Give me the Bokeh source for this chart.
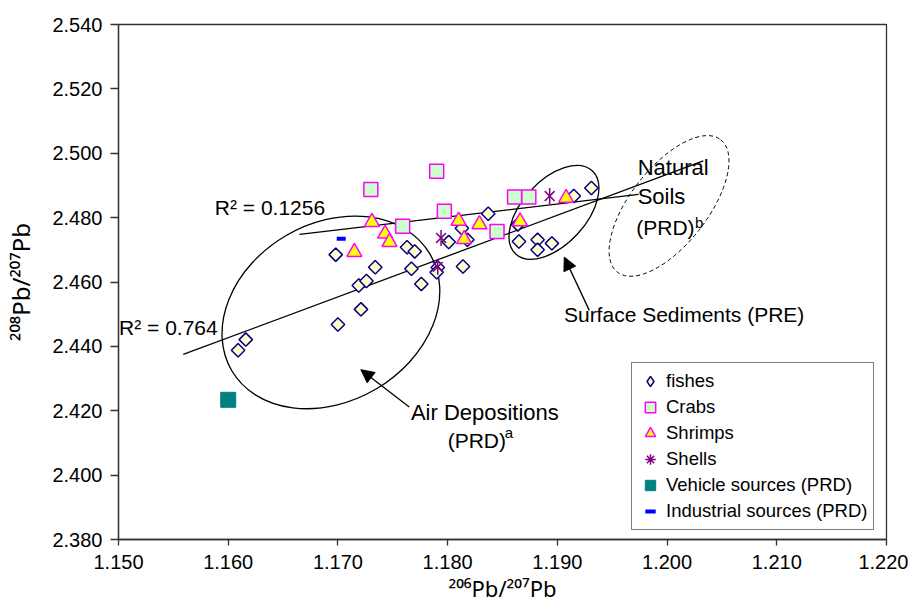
import numpy as np
from bokeh.plotting import figure
from bokeh.models import (Range1d, FixedTicker, NumeralTickFormatter, Label, Arrow,
                          NormalHead, Legend, LegendItem)
from bokeh.embed import file_html
from bokeh.resources import INLINE

# ---------------- data ----------------
fish_x = [1.1609, 1.1616, 1.1698, 1.1700, 1.1719, 1.1721, 1.1726, 1.1734, 1.1763,
          1.1770, 1.1767, 1.1776, 1.1791, 1.1790, 1.1801, 1.1813, 1.1818, 1.1814,
          1.1837, 1.1864, 1.1865, 1.1882, 1.1882, 1.1895, 1.1915, 1.1931]
fish_y = [2.4388, 2.4421, 2.4685, 2.4468, 2.4589, 2.4515, 2.4603, 2.4646, 2.4708,
          2.4695, 2.4641, 2.4594, 2.4645, 2.4630, 2.4724, 2.4767, 2.4731, 2.4648,
          2.4812, 2.4779, 2.4726, 2.4731, 2.4700, 2.4720, 2.4867, 2.4892]
crab_x = [1.1730, 1.1790, 1.1759, 1.1797, 1.1845, 1.1861, 1.1874]
crab_y = [2.4887, 2.4944, 2.4773, 2.4820, 2.4757, 2.4864, 2.4864]
shrimp_x = [1.1715, 1.1731, 1.1743, 1.1747, 1.1810, 1.1815, 1.1829, 1.1866, 1.1908]
shrimp_y = [2.4693, 2.4786, 2.4750, 2.4724, 2.4790, 2.4733, 2.4779, 2.4788, 2.4861]
shell_x = [1.1791, 1.1794, 1.1893]
shell_y = [2.4647, 2.4737, 2.4867]
vehicle_x = [1.1600]
vehicle_y = [2.4234]
industrial_x = [1.1703]
industrial_y = [2.4734]

# trend lines (end points)
fit764_x = [1.1559, 1.2033]
fit764_y = [2.4375, 2.4976]
fit1256_x = [1.1665, 1.1974]
fit1256_y = [2.4748, 2.4872]

x_ticks = [1.15, 1.16, 1.17, 1.18, 1.19, 1.20, 1.21, 1.22]
y_ticks = [2.38, 2.40, 2.42, 2.44, 2.46, 2.48, 2.50, 2.52, 2.54]

x_title = "²⁰⁶Pb/²⁰⁷Pb"
y_title = "²⁰⁸Pb/²⁰⁷Pb"

FONT = "Liberation Sans"
AX = "#333333"

p = figure(width=908, height=605, output_backend="svg", toolbar_location=None,
           x_range=Range1d(1.15, 1.22), y_range=Range1d(2.38, 2.54),
           min_border_left=118, min_border_right=22, min_border_top=24,
           min_border_bottom=66)
p.grid.visible = False
p.outline_line_color = AX
p.outline_line_width = 1.3
p.background_fill_color = "white"

p.xaxis.ticker = FixedTicker(ticks=x_ticks)
p.yaxis.ticker = FixedTicker(ticks=y_ticks)
p.xaxis.formatter = NumeralTickFormatter(format="0.000")
p.yaxis.formatter = NumeralTickFormatter(format="0.000")
for ax in (p.xaxis, p.yaxis):
    ax.axis_line_color = AX
    ax.axis_line_width = 1.3
    ax.major_tick_line_color = AX
    ax.major_tick_line_width = 1.3
    ax.major_tick_in = 0
    ax.minor_tick_line_color = None
    ax.major_label_text_font = FONT
    ax.major_label_text_font_size = "20px"
    ax.major_label_text_color = "black"
    ax.axis_label_text_font = "Noto Sans"
    ax.axis_label_text_font_style = "normal"
    ax.axis_label_text_color = "black"
p.xaxis.axis_label_text_font_size = "22px"
p.yaxis.axis_label_text_font_size = "24px"
p.yaxis.major_tick_out = 8
p.yaxis.major_label_standoff = 8
p.xaxis.major_tick_out = 6
p.xaxis.major_label_standoff = 9
p.xaxis.axis_label = x_title
p.yaxis.axis_label = y_title
p.xaxis.axis_label_standoff = 1
p.yaxis.axis_label_standoff = 12

# ellipses (outline only)
p.ellipse(x=[1.16936], y=[2.45056], width=230, height=178, angle=0.532,
          width_units="screen", height_units="screen",
          fill_color=None, line_color="black", line_width=1.3)
p.ellipse(x=[1.18969], y=[2.48162], width=113, height=64, angle=0.827,
          width_units="screen", height_units="screen",
          fill_color=None, line_color="black", line_width=1.3)
p.ellipse(x=[1.20018], y=[2.48363], width=168, height=77, angle=0.908,
          width_units="screen", height_units="screen",
          fill_color=None, line_color="black", line_width=1.0, line_dash="4 3")

# trend lines
p.line(fit764_x, fit764_y, line_color="black", line_width=1.3)
p.line(fit1256_x, fit1256_y, line_color="black", line_width=1.3)

# series
fish_style = dict(fill_color="#FFFFCC", line_color="#000080", line_width=1.5)
shell_style = dict(line_color="#800080", line_width=1.5)
r_fish = p.scatter(fish_x, fish_y, marker="square", angle=np.pi / 4, size=9.5, **fish_style)
r_crab = p.scatter(crab_x, crab_y, marker="square", size=14,
                   fill_color="#CCFFCC", line_color="#FF00FF", line_width=1.5)
r_shrimp = p.scatter(shrimp_x, shrimp_y, marker="triangle", size=15,
                     fill_color="#FFFF00", line_color="#FF00FF", line_width=1.5)
p.scatter(shell_x, shell_y, marker="x", size=14, **shell_style)
p.scatter(shell_x, shell_y, marker="dash", angle=np.pi / 2, size=16, **shell_style)
r_veh = p.scatter(vehicle_x, vehicle_y, marker="square", size=15,
                  fill_color="#008080", line_color="#008080")
r_ind = p.scatter(industrial_x, industrial_y, marker="dash", size=9,
                  line_color="#0000FF", line_width=4)

# legend-only swatches (no position in the plot, only drawn inside the legend)
key_fish = p.scatter([np.nan], [np.nan], marker="diamond", **fish_style)
key_shell = p.scatter([np.nan], [np.nan], marker="asterisk", **shell_style)

# arrows
p.add_layout(Arrow(end=NormalHead(size=13, fill_color="black", line_color="black"),
                   x_start=1.17650, y_start=2.42115, x_end=1.17209, y_end=2.43276,
                   line_color="black", line_width=1.3))
p.add_layout(Arrow(end=NormalHead(size=13, fill_color="black", line_color="black"),
                   x_start=1.19291, y_start=2.45118, x_end=1.19063, y_end=2.46773,
                   line_color="black", line_width=1.3))

# text annotations
def lab(x, y, text, size="21px"):
    p.add_layout(Label(x=x, y=y, text=text, text_font=FONT, text_font_size=size,
                       text_baseline="middle", text_align="left", text_color="black"))

lab(1.15878, 2.48317, "R² = 0.1256")
lab(1.15005, 2.44599, "R² = 0.764")
lab(1.19732, 2.49547, "Natural", "22px")
lab(1.19732, 2.48643, "Soils", "22px")
lab(1.19719, 2.47696, "(PRD)", "21px")
lab(1.20254, 2.47860, "b", "15px")
lab(1.19060, 2.44994, "Surface Sediments (PRE)", "21px")
lab(1.17665, 2.41950, "Air Depositions", "22px")
lab(1.18000, 2.41081, "(PRD)", "21px")
lab(1.18520, 2.41338, "a", "15px")

legend = Legend(items=[
    LegendItem(label="fishes", renderers=[key_fish]),
    LegendItem(label="Crabs", renderers=[r_crab]),
    LegendItem(label="Shrimps", renderers=[r_shrimp]),
    LegendItem(label="Shells", renderers=[key_shell]),
    LegendItem(label="Vehicle sources (PRD)", renderers=[r_veh]),
    LegendItem(label="Industrial sources (PRD)", renderers=[r_ind]),
], location=(513, 9))
legend.border_line_color = "black"
legend.border_line_width = 1.5
legend.background_fill_color = "white"
legend.background_fill_alpha = 1.0
legend.padding = 5
legend.spacing = 0
legend.margin = 0
legend.glyph_height = 26
legend.glyph_width = 26
legend.label_height = 26
legend.label_standoff = 3
legend.label_text_font = FONT
legend.label_text_font_size = "18.5px"
legend.label_text_color = "black"
p.add_layout(legend)

open("out.html", "w").write(file_html(p, INLINE))
